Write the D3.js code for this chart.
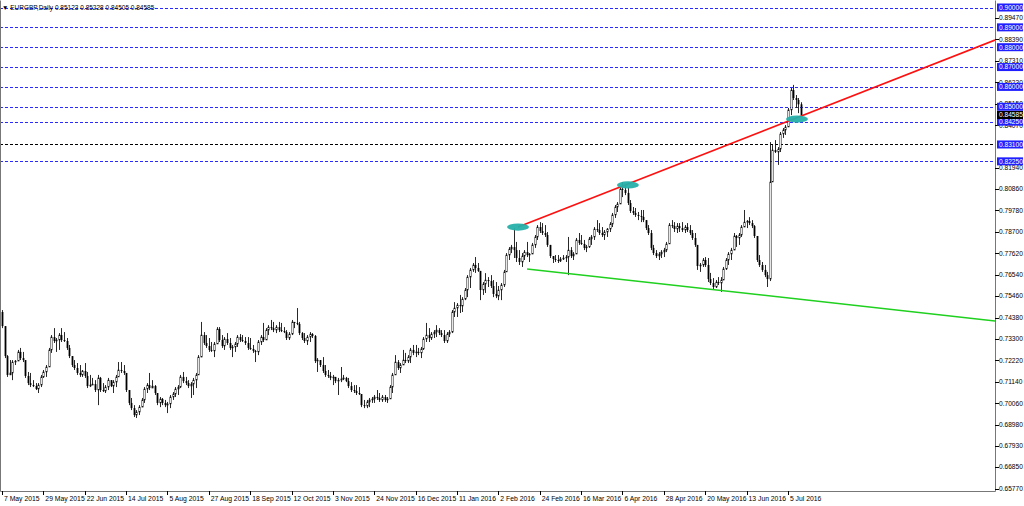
<!DOCTYPE html>
<html><head><meta charset="utf-8">
<script src="https://cdn.jsdelivr.net/npm/d3@7"></script>
<style>
body{margin:0;background:#fff}
svg{display:block}
text{font-family:"Liberation Sans",Arial,sans-serif}
</style>
</head><body>
<svg id="c" width="1024" height="506"></svg>
<script>
// ---------------- DATA ----------------
const symbolTitle = "EURGBP,Daily";
const lastBarOHLC = [0.85123, 0.85228, 0.84505, 0.84585];
const dateLabels = ["7 May 2015","29 May 2015","22 Jun 2015","14 Jul 2015","5 Aug 2015","27 Aug 2015","18 Sep 2015","12 Oct 2015","3 Nov 2015","24 Nov 2015","16 Dec 2015","11 Jan 2016","2 Feb 2016","24 Feb 2016","16 Mar 2016","6 Apr 2016","28 Apr 2016","20 May 2016","13 Jun 2016","5 Jul 2016"];
const barsPerDateLabel = 16;
const priceTicks = [0.89470,0.88390,0.87310,0.86230,0.85150,0.84070,0.81940,0.80860,0.79780,0.78700,0.77620,0.76540,0.75460,0.74380,0.73300,0.72220,0.71140,0.70060,0.68980,0.67930,0.66850,0.65770];
const levelPrices = [0.90000,0.89000,0.88000,0.87000,0.86000,0.85000,0.84250,0.83100,0.82250];
// trendlines: [barIndex, price]
const redTrend = [[199.6,0.7894],[384.1,0.8836]];
const greenTrend = [[203.1,0.7683],[384.1,0.7421]];
const touchMarks = [[199.6,0.7894],[242.1,0.8106],[307.5,0.8438]];

const opens = [
.7466,.7395,.7244,.7149,.7159,.7214,.7219,.7265,.7234,.7224,.7144,.7108,.7098,.7093,.7078,.7098,.7139,.7164,.7189,.7275,
.7340,.7320,.7325,.7350,.7325,.7320,.7285,.7244,.7199,.7184,.7159,.7149,.7169,.7144,.7093,.7098,.7103,.7073,.7134,.7073,
.7068,.7088,.7123,.7093,.7113,.7139,.7174,.7169,.7159,.7073,.7008,.6982,.6947,.6962,.6987,.7023,.7078,.7098,.7083,.7093,
.7058,.7008,.7028,.7008,.6997,.7003,.7038,.7053,.7078,.7088,.7139,.7118,.7108,.7093,.7103,.7123,.7149,.7239,.7350,.7310,
.7295,.7275,.7270,.7305,.7380,.7325,.7295,.7330,.7310,.7285,.7290,.7305,.7340,.7325,.7320,.7310,.7285,.7280,.7270,
.7265,.7315,.7340,.7325,.7375,.7390,.7385,.7375,.7390,.7375,.7370,.7365,.7335,.7355,.7416,.7411,.7406,.7360,.7335,.7320,
.7340,.7355,.7345,.7219,.7224,.7199,.7169,.7149,.7144,.7134,.7139,.7118,.7123,.7129,.7134,.7118,.7093,.7073,.7068,.7058,
.7053,.6997,.6992,.7013,.7023,.7028,.7038,.7033,.7023,.7038,.7023,.7028,.7088,.7149,.7214,.7184,.7199,.7224,.7219,.7239,
.7275,.7260,.7265,.7260,.7280,.7330,.7350,.7335,.7355,.7365,.7375,.7360,.7350,.7320,.7355,.7365,.7466,.7486,.7501,.7496,
.7531,.7577,.7642,.7678,.7703,.7688,.7673,.7577,.7607,.7627,.7622,.7597,.7557,.7546,.7577,.7602,
.7668,.7753,.7783,.7793,.7778,.7738,.7718,.7748,.7768,.7753,.7758,.7804,.7844,.7894,.7874,.7864,.7854,.7804,.7748,.7733,
.7728,.7723,.7733,.7738,.7743,.7778,.7748,.7758,.7829,.7814,.7809,.7789,.7794,.7834,.7844,.7884,.7879,.7864,.7854,.7869,
.7884,.7909,.7955,.7995,.8010,.8086,.8081,.8066,.8015,.7975,.7965,.7955,.7950,.7945,.7929,.7889,.7864,.7789,.7763,.7748,
.7758,.7768,.7778,.7809,.7904,.7899,.7884,.7899,.7889,.7879,.7894,.7879,.7864,.7839,.7804,.7698,.7703,.7728,.7703,.7632,
.7612,.7592,.7617,.7612,.7627,.7683,.7728,.7758,.7778,.7849,.7839,.7854,.7894,.7919,.7924,.7914,
.7899,.7849,.7728,.7703,.7678,.7652,.7632,.8121,.8282,.8272,.8287,.8363,.8383,.8398,.8484,.8584,.8544,.8534,.85123];
const highs = [
.7476,.7395,.7249,.7224,.7224,.7224,.7275,.7285,.7265,.7224,.7164,.7159,.7123,.7108,.7108,.7149,.7174,.7199,.7285,.7350,
.7385,.7335,.7360,.7385,.7365,.7335,.7300,.7244,.7224,.7209,.7199,.7174,.7209,.7164,.7149,.7134,.7123,.7149,.7139,.7108,
.7098,.7134,.7123,.7123,.7149,.7214,.7214,.7199,.7159,.7073,.7033,.6997,.6972,.6997,.7033,.7088,.7108,.7159,.7123,.7098,
.7058,.7038,.7033,.7023,.7013,.7048,.7063,.7088,.7098,.7149,.7164,.7139,.7123,.7113,.7134,.7159,.7249,.7416,.7365,.7350,
.7335,.7315,.7315,.7390,.7390,.7350,.7340,.7360,.7335,.7300,.7315,.7350,.7355,.7350,.7340,.7340,.7335,.7300,.7275,
.7325,.7350,.7411,.7385,.7400,.7426,.7416,.7400,.7416,.7411,.7390,.7375,.7365,.7426,.7416,.7486,.7416,.7365,.7360,.7350,
.7365,.7360,.7350,.7234,.7224,.7239,.7199,.7174,.7164,.7149,.7139,.7134,.7189,.7149,.7139,.7134,.7113,.7098,.7098,.7088,
.7053,.7023,.7023,.7033,.7038,.7048,.7073,.7058,.7048,.7048,.7038,.7098,.7159,.7249,.7224,.7209,.7275,.7260,.7249,.7285,
.7300,.7300,.7285,.7290,.7340,.7411,.7385,.7365,.7375,.7400,.7385,.7375,.7375,.7365,.7375,.7476,.7516,.7511,.7552,.7541,
.7587,.7652,.7688,.7713,.7743,.7713,.7673,.7617,.7662,.7642,.7652,.7627,.7617,.7597,.7612,.7678,
.7763,.7793,.7804,.7889,.7819,.7778,.7763,.7778,.7819,.7763,.7814,.7854,.7904,.7919,.7914,.7904,.7869,.7804,.7748,.7753,
.7753,.7743,.7753,.7753,.7844,.7793,.7768,.7839,.7864,.7854,.7829,.7804,.7844,.7854,.7894,.7929,.7914,.7894,.7879,.7889,
.7919,.7965,.8005,.8020,.8096,.8121,.8106,.8096,.8030,.7995,.7990,.7970,.7980,.7980,.7929,.7904,.7879,.7804,.7778,.7768,
.7778,.7789,.7819,.7914,.7929,.7919,.7914,.7914,.7919,.7904,.7914,.7904,.7879,.7864,.7804,.7713,.7738,.7743,.7738,.7663,
.7637,.7627,.7642,.7642,.7693,.7738,.7768,.7789,.7864,.7854,.7864,.7904,.7980,.7929,.7944,.7929,
.7904,.7849,.7753,.7718,.7703,.7668,.8322,.8307,.8332,.8297,.8373,.8393,.8408,.8494,.8595,.8610,.8559,.8544,.85228];
const lows = [
.7385,.7234,.7139,.7149,.7123,.7199,.7219,.7224,.7214,.7134,.7098,.7088,.7088,.7073,.7058,.7088,.7134,.7139,.7189,.7260,
.7310,.7265,.7275,.7315,.7315,.7275,.7234,.7189,.7174,.7149,.7139,.7139,.7134,.7083,.7088,.7098,.7063,.6997,.7063,.7063,
.7058,.7073,.7088,.7058,.7088,.7139,.7159,.7149,.7063,.6997,.6972,.6937,.6932,.6947,.6987,.7008,.7058,.7073,.7083,.7048,
.6997,.6987,.6997,.6987,.6957,.6982,.7023,.7038,.7048,.7083,.7108,.7098,.7083,.7033,.7048,.7083,.7149,.7239,.7300,.7285,
.7265,.7265,.7239,.7305,.7315,.7285,.7275,.7300,.7275,.7239,.7265,.7290,.7315,.7315,.7300,.7275,.7275,.7260,.7214,
.7249,.7300,.7315,.7325,.7350,.7375,.7365,.7360,.7365,.7365,.7360,.7325,.7325,.7350,.7385,.7400,.7350,.7325,.7310,.7300,
.7315,.7335,.7209,.7164,.7189,.7159,.7139,.7134,.7123,.7098,.7108,.7048,.7113,.7123,.7113,.7083,.7063,.7058,.7048,.7048,
.6987,.6982,.6982,.6987,.7008,.7008,.7023,.7013,.7013,.7013,.7008,.7028,.7058,.7149,.7174,.7159,.7199,.7209,.7209,.7209,
.7249,.7239,.7249,.7234,.7275,.7315,.7315,.7325,.7335,.7340,.7350,.7340,.7310,.7310,.7340,.7360,.7441,.7441,.7461,.7466,
.7526,.7541,.7587,.7668,.7663,.7668,.7526,.7552,.7562,.7592,.7587,.7541,.7536,.7526,.7526,.7592,
.7668,.7728,.7763,.7738,.7718,.7703,.7693,.7728,.7743,.7718,.7758,.7789,.7829,.7864,.7854,.7844,.7794,.7738,.7713,.7718,
.7713,.7718,.7728,.7718,.7652,.7738,.7728,.7758,.7804,.7804,.7778,.7768,.7789,.7804,.7829,.7869,.7854,.7844,.7829,.7844,
.7869,.7894,.7940,.7970,.8010,.8045,.8055,.8005,.7965,.7955,.7945,.7929,.7919,.7919,.7879,.7854,.7778,.7753,.7738,.7728,
.7738,.7743,.7768,.7809,.7889,.7869,.7864,.7869,.7869,.7864,.7869,.7854,.7829,.7794,.7678,.7668,.7693,.7693,.7617,.7602,
.7577,.7587,.7602,.7567,.7627,.7678,.7703,.7728,.7778,.7794,.7804,.7844,.7894,.7889,.7904,.7889,
.7839,.7718,.7693,.7668,.7642,.7592,.7622,.8121,.8267,.8207,.8272,.8343,.8358,.8398,.8458,.8534,.8494,.8468,.84505];
const closes = [
.7395,.7244,.7149,.7159,.7214,.7219,.7265,.7234,.7224,.7144,.7108,.7098,.7093,.7078,.7098,.7139,.7164,.7189,.7275,.7340,
.7320,.7325,.7350,.7325,.7320,.7285,.7244,.7199,.7184,.7159,.7149,.7169,.7144,.7093,.7098,.7103,.7073,.7134,.7073,.7068,
.7088,.7123,.7093,.7113,.7139,.7174,.7169,.7159,.7073,.7008,.6982,.6947,.6962,.6987,.7023,.7078,.7098,.7083,.7093,.7058,
.7008,.7028,.7008,.6997,.7003,.7038,.7053,.7078,.7088,.7139,.7118,.7108,.7093,.7103,.7123,.7149,.7239,.7350,.7310,.7295,
.7275,.7270,.7305,.7380,.7325,.7295,.7330,.7310,.7285,.7290,.7305,.7340,.7325,.7320,.7310,.7285,.7280,.7270,.7265,
.7315,.7340,.7325,.7375,.7390,.7385,.7375,.7390,.7375,.7370,.7365,.7335,.7355,.7416,.7411,.7406,.7360,.7335,.7320,.7340,
.7355,.7345,.7219,.7224,.7199,.7169,.7149,.7144,.7134,.7139,.7118,.7123,.7129,.7134,.7118,.7093,.7073,.7068,.7058,.7053,
.6997,.6992,.7013,.7023,.7028,.7038,.7033,.7023,.7038,.7023,.7028,.7088,.7149,.7214,.7184,.7199,.7224,.7219,.7239,.7275,
.7260,.7265,.7260,.7280,.7330,.7350,.7335,.7355,.7365,.7375,.7360,.7350,.7320,.7355,.7365,.7466,.7486,.7501,.7496,.7531,
.7577,.7642,.7678,.7703,.7688,.7673,.7577,.7607,.7627,.7622,.7597,.7557,.7546,.7577,.7602,.7668,
.7753,.7783,.7793,.7778,.7738,.7718,.7748,.7768,.7753,.7758,.7804,.7844,.7894,.7874,.7864,.7854,.7804,.7748,.7733,.7728,
.7723,.7733,.7738,.7743,.7778,.7748,.7758,.7829,.7814,.7809,.7789,.7794,.7834,.7844,.7884,.7879,.7864,.7854,.7869,.7884,
.7909,.7955,.7995,.8010,.8086,.8081,.8066,.8015,.7975,.7965,.7955,.7950,.7945,.7929,.7889,.7864,.7789,.7763,.7748,.7758,
.7768,.7778,.7809,.7904,.7899,.7884,.7899,.7889,.7879,.7894,.7879,.7864,.7839,.7804,.7698,.7703,.7728,.7703,.7632,.7612,
.7592,.7617,.7612,.7627,.7683,.7728,.7758,.7778,.7849,.7839,.7854,.7894,.7919,.7924,.7914,.7899,
.7849,.7728,.7703,.7678,.7652,.7632,.8121,.8282,.8272,.8287,.8363,.8383,.8398,.8484,.8584,.8544,.8534,.85123,.84585];

// ---------------- CHART ----------------
const plotRight = 995, plotBottom = 491;
const x = d3.scaleLinear().domain([0, 384.1]).range([2, plotRight]);
const y = d3.scaleLinear().domain([0.6577, 0.9]).range([488.5, 7.5]);
const svg = d3.select("#c");
svg.append("rect").attr("width",1024).attr("height",506).attr("fill","#fff");
svg.append("defs").append("clipPath").attr("id","pc")
  .append("rect").attr("x",0).attr("y",0).attr("width",plotRight).attr("height",plotBottom);

const bars = d3.range(closes.length).map(i => ({i, o:opens[i], h:highs[i], l:lows[i], c:closes[i]}));
const py = v => Math.round(y(v)) + 0.5;

// level lines
svg.append("g").selectAll("line").data(levelPrices).join("line")
  .attr("x1",0).attr("x2",plotRight)
  .attr("y1",d=>py(d)).attr("y2",d=>py(d))
  .attr("stroke", d => d === 0.831 ? "#000000" : "#2a2aff")
  .attr("stroke-width",1).attr("stroke-dasharray","3,2");

// candles
const cg = svg.append("g").attr("clip-path","url(#pc)");
cg.selectAll("line").data(bars).join("line")
  .attr("x1",d=>Math.round(x(d.i))+0.5).attr("x2",d=>Math.round(x(d.i))+0.5)
  .attr("y1",d=>y(d.h)).attr("y2",d=>y(d.l))
  .attr("stroke","#111").attr("stroke-width",0.9);
cg.selectAll("rect").data(bars).join("rect")
  .attr("x",d=>Math.round(x(d.i)) - (d.c>=d.o ? 0.2 : 0.4))
  .attr("width",d=> d.c>=d.o ? 1.4 : 1.8)
  .attr("y",d=>y(Math.max(d.o,d.c)))
  .attr("height",d=>Math.max(1, Math.abs(y(d.o)-y(d.c))))
  .attr("fill",d=> d.c>=d.o ? "#fff" : "#000")
  .attr("stroke","#000").attr("stroke-width",d=> d.c>=d.o ? 0.5 : 0);

// trendlines
const tl = d3.line().x(d=>x(d[0])).y(d=>y(d[1]));
svg.append("path").attr("d",tl(greenTrend)).attr("stroke","#1fd01f").attr("stroke-width",1.5).attr("fill","none").attr("clip-path","url(#pc)");
svg.append("path").attr("d",tl(redTrend)).attr("stroke","#ff1010").attr("stroke-width",1.7).attr("fill","none").attr("clip-path","url(#pc)");

// touch marks
svg.append("g").selectAll("ellipse").data(touchMarks).join("ellipse")
  .attr("cx",d=>x(d[0])).attr("cy",d=>y(d[1])).attr("rx",11).attr("ry",3.6)
  .attr("fill","#26b0aa").attr("opacity",0.95);

// frame
svg.append("path").attr("d",`M0.5,0.5V${plotBottom+0.5}H${plotRight+0.5}V0.5`)
  .attr("fill","none").attr("stroke","#777").attr("stroke-width",1);

// right axis ticks
const ag = svg.append("g");
ag.selectAll("line").data(priceTicks).join("line")
  .attr("x1",plotRight).attr("x2",plotRight+4).attr("y1",d=>py(d)).attr("y2",d=>py(d)).attr("stroke","#000");
ag.selectAll("text").data(priceTicks).join("text")
  .attr("x",plotRight+4).attr("y",d=>y(d)+2.3).attr("font-size","6.6px").attr("fill","#000")
  .text(d=>d.toFixed(5));

// level boxes
const lb = svg.append("g").selectAll("g").data(levelPrices).join("g");
lb.append("rect").attr("x",plotRight+2).attr("y",d=>y(d)-4).attr("width",26).attr("height",8).attr("fill","#1f1fff");
lb.append("text").attr("x",plotRight+4).attr("y",d=>y(d)+2.4).attr("font-size","6.6px").attr("fill","#fff").text(d=>d.toFixed(5));

// current price box
const cp = lastBarOHLC[3];
svg.append("rect").attr("x",plotRight+2).attr("y",y(cp)-4).attr("width",26).attr("height",8).attr("fill","#000");
svg.append("text").attr("x",plotRight+4).attr("y",y(cp)+2.4).attr("font-size","6.6px").attr("fill","#fff").text(cp.toFixed(5));

// date axis
const dg = svg.append("g").selectAll("g").data(dateLabels).join("g");
dg.append("line").attr("x1",(d,k)=>Math.round(x(k*barsPerDateLabel))+0.5).attr("x2",(d,k)=>Math.round(x(k*barsPerDateLabel))+0.5)
  .attr("y1",plotBottom).attr("y2",plotBottom+4).attr("stroke","#000");
dg.append("text").attr("x",(d,k)=>x(k*barsPerDateLabel)+2).attr("y",plotBottom+9.5)
  .attr("font-size","6.8px").attr("fill","#000").text(d=>d);

// title
svg.append("text").attr("x",2).attr("y",10).attr("font-size","6.5px").attr("fill","#000")
  .text("\u25BC " + symbolTitle + "  " + lastBarOHLC.map(v=>v.toFixed(5)).join(" "));
</script>
</body></html>
